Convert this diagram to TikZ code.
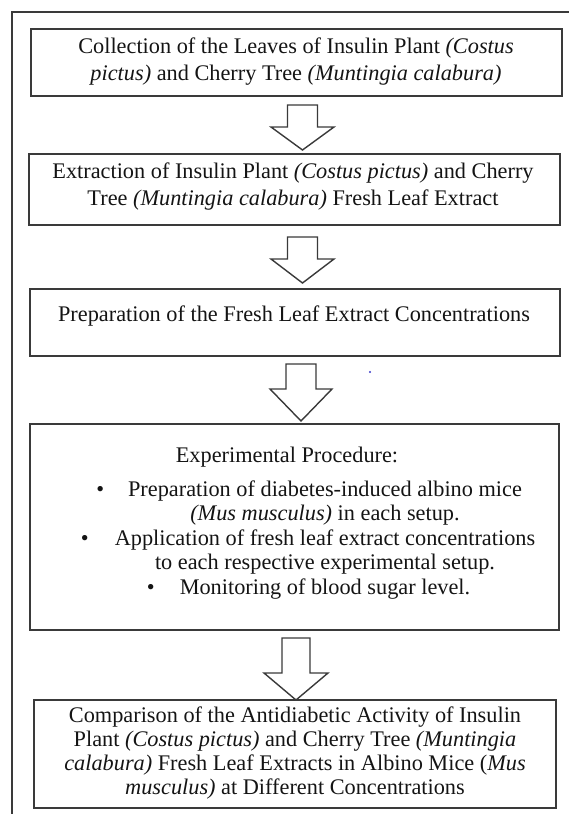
\documentclass[tikz,border=0pt]{standalone}
\usepackage{fontspec}
\setmainfont{Liberation Serif}
\definecolor{linegray}{HTML}{3A3A3A}
\definecolor{txtcol}{HTML}{141414}
\definecolor{dotblue}{HTML}{3A3AC8}
\newcommand{\blockarr}[6]{%
  \draw[barrow] (#1-#5,#2) -- (#1+#5,#2) -- (#1+#5,#3) -- (#1+#6,#3) -- (#1,#4)
    -- (#1-#6,#3) -- (#1-#5,#3) -- cycle;}
\begin{document}
\begin{tikzpicture}[x=1pt,y=-1pt,
  box/.style={draw=linegray, line width=1.8pt, inner sep=0pt},
  txt/.style={text=txtcol, align=center, inner sep=0pt, font=\fontsize{22.3}{27}\selectfont},
  barrow/.style={draw=linegray, line width=1.4pt, fill=white, line join=miter}]
\useasboundingbox (0,0) rectangle (568,814);
% outer frame
\draw[draw=linegray, line width=1.8pt] (12,830) -- (12,12) -- (580,12);
% boxes
\node[box, minimum width=531pt, minimum height=67pt] (b1) at (296.5,62.5) {};
\node[txt] (t1) at (296,62) {Collection of the Leaves of Insulin Plant \textit{(Costus}\\\textit{pictus)} and Cherry Tree \textit{(Muntingia calabura)}};
\node[box, minimum width=531pt, minimum height=71pt] (b2) at (294.5,189.5) {};
\node[txt] (t2) at (293,187) {Extraction of Insulin Plant \textit{(Costus pictus)} and Cherry\\Tree \textit{(Muntingia calabura)} Fresh Leaf Extract};
\node[box, minimum width=530pt, minimum height=67pt] (b3) at (295,322.5) {};
\node[txt] (t3) at (294,316) {Preparation of the Fresh Leaf Extract Concentrations};
\node[box, minimum width=529pt, minimum height=206pt] (b4) at (294.5,527) {};
\node[txt] (t4) at (287,457) {Experimental Procedure:};
\node[txt, font=\fontsize{22.3}{24.5}\selectfont] (l4) at (325,540) {%
  \llap{•\hspace{24pt}}Preparation of diabetes-induced albino mice\\
  \textit{(Mus musculus)} in each setup.\\
  \llap{•\hspace{26pt}}Application of fresh leaf extract concentrations\\
  to each respective experimental setup.\\
  \llap{•\hspace{25pt}}Monitoring of blood sugar level.};
\node[box, minimum width=522pt, minimum height=108pt] (b5) at (295,754) {};
\node[txt, font=\fontsize{22.3}{24}\selectfont] (t5) at (295,753) {Comparison of the Antidiabetic Activity of Insulin\\Plant \textit{(Costus pictus)} and Cherry Tree \textit{(Muntingia}\\\textit{calabura)} Fresh Leaf Extracts in Albino Mice (\textit{Mus}\\\textit{musculus)} at Different Concentrations};
% block arrows
\blockarr{302.5}{105}{127}{150}{15}{31.5}
\blockarr{302.5}{237}{259}{283}{15}{31.5}
\blockarr{301}{364}{389}{421}{15}{31}
\blockarr{296}{638}{673}{700}{14}{32}
% stray dot
\fill[dotblue] (370,372) circle (1.2pt);
\end{tikzpicture}
\end{document}
